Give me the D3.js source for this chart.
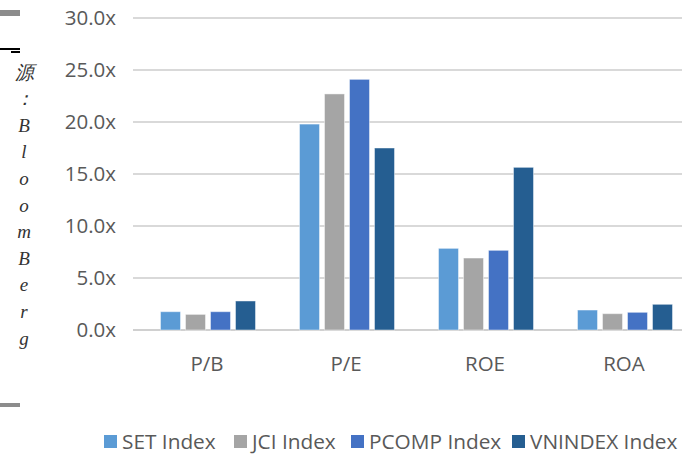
<!DOCTYPE html>
<html><head><meta charset="utf-8">
<script src="https://cdn.jsdelivr.net/npm/d3@7"></script>
<style>body{margin:0;background:#fff;} svg{display:block;}</style>
</head><body>
<svg id="c" width="682" height="454"></svg>
<script>
const categories = ["P/B", "P/E", "ROE", "ROA"];
const seriesNames = ["SET Index", "JCI Index", "PCOMP Index", "VNINDEX Index"];
const setValues = [1.76, 19.8, 7.85, 1.92];
const jciValues = [1.5, 22.7, 6.92, 1.57];
const pcompValues = [1.76, 24.1, 7.66, 1.70];
const vnValues = [2.79, 17.5, 15.64, 2.47];
const yTicks = [0, 5, 10, 15, 20, 25, 30];
const sideLabel = ["源", "：", "B", "l", "o", "o", "m", "B", "e", "r", "g"];
const colors = ["#5B9BD5", "#A5A5A5", "#4472C4", "#255E91"];

const allSeries = [setValues, jciValues, pcompValues, vnValues];
const svg = d3.select("#c");
const font = "'Open Sans', sans-serif";

const x = d3.scaleBand().domain(categories).range([138.5, 694.5]).paddingInner(0).paddingOuter(0);
const y = d3.scaleLinear().domain([0, 30]).range([330, 18]);
const xs = d3.scaleBand().domain(d3.range(4)).range([0, 95]).paddingInner(0.2).paddingOuter(0);

// gridlines
svg.append("g").selectAll("line").data(yTicks).join("line")
  .attr("x1", 133).attr("x2", 682)
  .attr("y1", d => y(d)).attr("y2", d => y(d))
  .attr("stroke", d => d === 0 ? "#d0d0d0" : "#d9d9d9").attr("stroke-width", 2);

// y labels
svg.append("g").selectAll("text").data(yTicks).join("text")
  .attr("x", 116).attr("y", d => y(d)).attr("dy", "0.36em")
  .attr("text-anchor", "end").attr("font-family", font).attr("font-size", 20.5)
  .attr("fill", "#595959").text(d => d.toFixed(1) + "x");

// bars
const groups = svg.append("g").selectAll("g").data(categories).join("g")
  .attr("transform", c => `translate(${x(c) + x.bandwidth() / 2 - 47.5},0)`);
groups.selectAll("rect").data((c, i) => allSeries.map((s, k) => ({k, v: s[i]}))).join("rect")
  .attr("x", d => xs(d.k)).attr("width", xs.bandwidth())
  .attr("y", d => y(d.v)).attr("height", d => y(0) - y(d.v))
  .attr("fill", d => colors[d.k])
  .attr("stroke", "#ffffff").attr("stroke-opacity", 0.45).attr("stroke-width", 1);

// x labels
svg.append("g").selectAll("text").data(categories).join("text")
  .attr("x", c => x(c) + x.bandwidth() / 2 - 1).attr("y", 371)
  .attr("text-anchor", "middle").attr("font-family", font).attr("font-size", 20.5)
  .attr("fill", "#595959").text(c => c);

// legend
const legX = [104, 234, 351, 512];
const leg = svg.append("g").selectAll("g").data(seriesNames).join("g")
  .attr("transform", (d, i) => `translate(${legX[i]},0)`);
leg.append("rect").attr("x", 0).attr("y", 435).attr("width", 13).attr("height", 13)
  .attr("fill", (d, i) => colors[i]);
leg.append("text").attr("x", 18).attr("y", 449).attr("font-family", font).attr("font-size", 20.8)
  .attr("fill", "#595959").text(d => d);

// side source label
svg.append("g").selectAll("text").data(sideLabel).join("text")
  .attr("x", 24).attr("y", (d, i) => 72 + i * 26.6).attr("dy", "0.35em")
  .attr("text-anchor", "middle").attr("font-family", "'Liberation Serif', serif")
  .attr("font-style", "italic").attr("font-size", 19).attr("fill", "#333")
  .text(d => d);

// decorative marks
svg.append("rect").attr("x", 0).attr("y", 10).attr("width", 20).attr("height", 6).attr("fill", "#8c8c8c");
svg.append("rect").attr("x", 0).attr("y", 48).attr("width", 20).attr("height", 2).attr("fill", "#000");
svg.append("rect").attr("x", 11).attr("y", 51).attr("width", 9).attr("height", 2).attr("fill", "#000");
svg.append("rect").attr("x", 0).attr("y", 403).attr("width", 20).attr("height", 4).attr("fill", "#8c8c8c");
</script>
</body></html>
